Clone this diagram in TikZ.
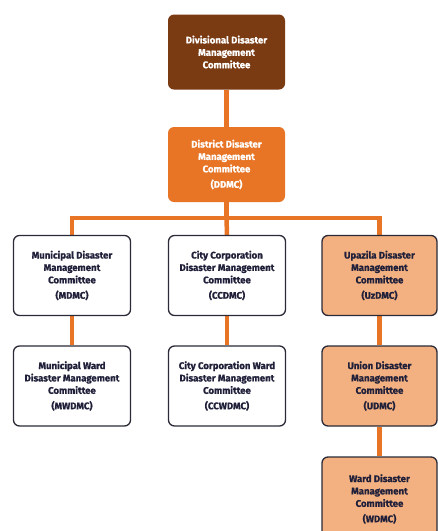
\documentclass[tikz,border=0pt]{standalone}
\usepackage{fontspec}
\setmainfont{Fira Sans}[BoldFeatures={FakeBold=0.9}]
\usetikzlibrary{backgrounds}
\definecolor{dbrown}{HTML}{7A3A12}
\definecolor{orng}{HTML}{E87526}
\definecolor{lorng}{HTML}{F3B080}
\definecolor{ink}{HTML}{20203A}
\definecolor{edge}{HTML}{2A2A38}
\begin{document}
\begin{tikzpicture}[x=1pt,y=-1pt,
  base/.style={rounded corners=6pt, align=center, font=\fontsize{9.6}{12.4}\selectfont\bfseries, inner sep=0pt},
  topbox/.style={base, fill=#1, text=white, minimum width=117pt, minimum height=75pt},
  wbox/.style={base, draw=edge, line width=1.3pt, fill=white, text=ink, minimum width=117pt, minimum height=80pt},
  obox/.style={base, draw=edge, line width=1.3pt, fill=lorng, text=ink, minimum width=115pt, minimum height=80pt},
  link/.style={orng, line width=4.5pt}]
\useasboundingbox (0,0) rectangle (438,531);
\clip (0,0) rectangle (438,531);
\coordinate (j) at (226.5,218);
\node[topbox=dbrown] (div) at (226.5,52) {Divisional Disaster\\Management\\Committee};
\node[topbox=orng] (ddmc) at (226.5,164.5) {District Disaster\\Management\\Committee\\[3pt](DDMC)};
\node[wbox] (mdmc) at (72,275.5) {Municipal Disaster\\Management\\Committee\\[3pt](MDMC)};
\node[wbox] (ccdmc) at (227,275.5) {City Corporation\\Disaster Management\\Committee\\[3pt](CCDMC)};
\node[obox] (uzdmc) at (379.5,275.5) {Upazila Disaster\\Management\\Committee\\[3pt](UzDMC)};
\node[wbox] (mwdmc) at (72,386) {Municipal Ward\\Disaster Management\\Committee\\[3pt](MWDMC)};
\node[wbox] (ccwdmc) at (227,386) {City Corporation Ward\\Disaster Management\\Committee\\[3pt](CCWDMC)};
\node[obox] (udmc) at (379.5,386) {Union Disaster\\Management\\Committee\\[3pt](UDMC)};
\node[obox, minimum height=84pt] (wdmc) at (379.5,499) {Ward Disaster\\Management\\Committee\\[3pt](WDMC)};
\begin{pgfonlayer}{background}
\draw[link] (div) -- (ddmc);
\draw[link] (ddmc) -- (j);
\draw[link] (mdmc.north) |- (j);
\draw[link] (uzdmc.north) |- (j);
\draw[link] (ccdmc.north) -- (j);
\draw[link] (mdmc) -- (mwdmc);
\draw[link] (ccdmc) -- (ccwdmc);
\draw[link] (uzdmc) -- (udmc);
\draw[link] (udmc) -- (wdmc);
\end{pgfonlayer}
\end{tikzpicture}
\end{document}
